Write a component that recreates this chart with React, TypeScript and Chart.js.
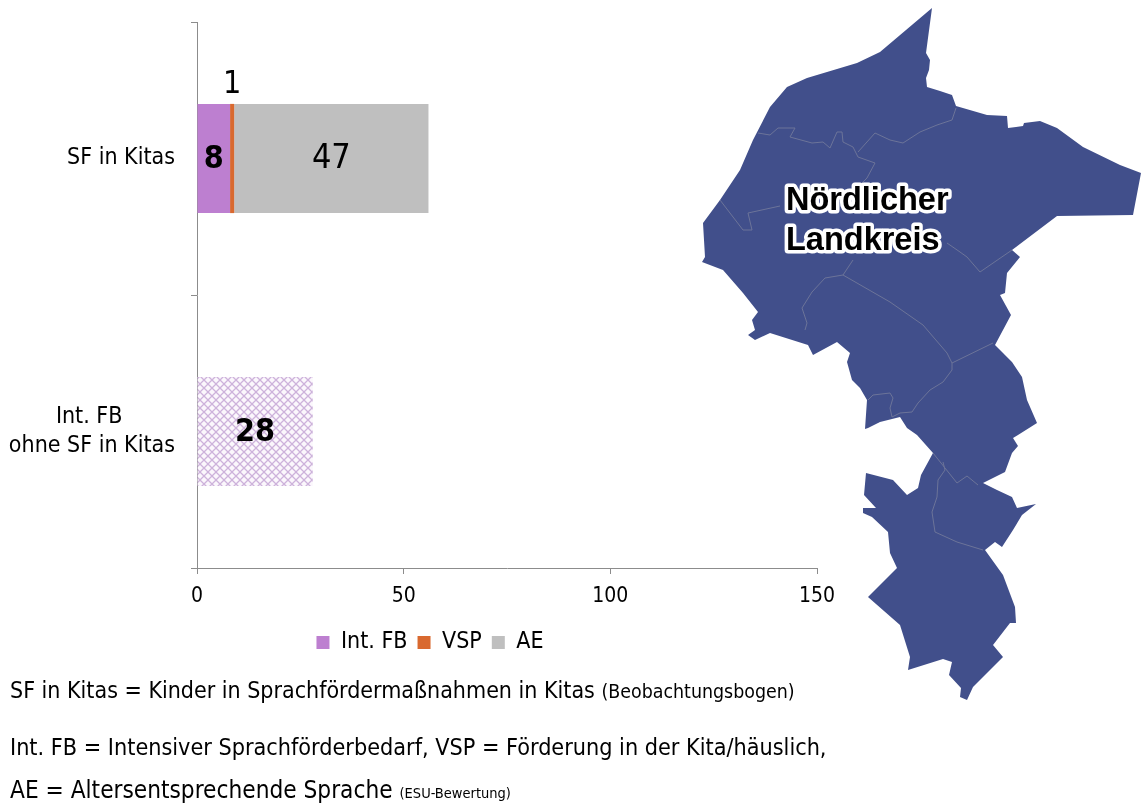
import React, { useEffect, useRef } from "react";
import { Chart, registerables } from "chart.js";

Chart.register(...registerables);

const FONT = '"DejaVu Sans Condensed", "DejaVu Sans", sans-serif';

const categories: string[][] = [["SF in Kitas"], ["Int. FB", "ohne SF in Kitas"]];
const intFb = [8, 28];
const vsp = [1, null];
const ae = [47, null];
const xTicks = [0, 50, 100, 150];

const COL_INT = "#bd7fd0";
const COL_VSP = "#d9692f";
const COL_AE = "#bfbfbf";
const AXIS = "#8c8c8c";

const outline: number[][] = [
  [932,8],[926,53],[930,60],[929,70],[926,78],[927,87],[940,91],[952,95],[956,106],[987,115],[1007,116],[1008,128],[1023,126],[1024,123],[1040,121],[1057,128],[1083,147],[1120,165],[1141,173],[1133,215],[1057,216],[1012,250],[1020,257],[1007,273],[1005,293],[1000,295],[1011,315],[995,345],
  [1003,353],[1012,362],[1022,377],[1027,400],[1037,423],[1013,438],[1018,446],[1012,453],[1005,472],[983,483],[997,490],[1012,497],[1017,508],[1036,504],[1022,515],[1013,530],[1002,547],[995,542],[985,550],[1003,575],[1015,607],[1016,623],[1010,623],[993,645],[1003,657],[973,687],[967,700],[960,697],[961,688],[949,675],[952,662],[943,659],[908,670],[910,657],[900,625],[868,597],[897,568],[890,553],[888,532],[872,517],[863,513],[863,508],[876,508],[864,495],[866,473],[893,480],[907,495],[918,488],[921,475],[933,453],
  [917,435],[907,428],[900,417],[880,422],[868,428],[865,429],[867,400],[860,388],[852,380],[847,362],[850,353],[837,342],[813,355],[808,345],[770,333],[755,340],[748,335],[755,330],[752,320],[758,312],[743,293],[723,270],[702,262],[705,257],[703,223],[720,200],[740,170],[753,140],[770,107],[787,87],[807,78],[857,63],[880,52]
];
const borders: number[][][] = [
  [[758,133],[770,135],[778,128],[795,128],[790,137],[812,143],[823,142],[830,148],[837,132],[842,132],[843,142],[853,147],[858,157],[875,163],[867,178],[860,185]],
  [[858,152],[875,133],[890,140],[903,143],[920,132],[937,125],[952,120],[956,108]],
  [[720,200],[743,230],[752,230],[748,213],[780,206]],
  [[947,243],[960,252],[967,257],[980,272],[1012,250]],
  [[853,260],[843,275],[825,278],[812,292],[802,308],[807,323],[805,330]],
  [[843,275],[890,302],[923,325],[947,353],[952,363],[993,343]],
  [[952,363],[952,370],[943,382],[930,390],[918,403],[912,412],[900,413],[892,417],[890,408],[893,398],[890,393],[873,395],[868,400]],
  [[933,453],[953,478],[957,483],[967,476],[978,485]],
  [[943,462],[945,470],[938,480],[937,497],[932,512],[935,532],[957,542],[983,550]],
];
const toPts = (p: number[][]) => p.map((q) => q.join(",")).join(" ");

function hatch(): CanvasPattern | string {
  const c = document.createElement("canvas");
  c.width = 8;
  c.height = 8;
  const g = c.getContext("2d");
  if (!g) return "#eee";
  g.fillStyle = "#fbf7fc";
  g.fillRect(0, 0, 8, 8);
  g.strokeStyle = "#cdb2db";
  g.lineWidth = 1.3;
  g.beginPath();
  g.moveTo(0, 0); g.lineTo(8, 8);
  g.moveTo(8, 0); g.lineTo(0, 8);
  g.stroke();
  return g.createPattern(c, "repeat") || "#eee";
}

const valueLabels = {
  id: "valueLabels",
  afterDatasetsDraw(chart: any) {
    const { ctx } = chart;
    ctx.save();
    ctx.textAlign = "center";
    ctx.textBaseline = "middle";
    ctx.fillStyle = "#000";
    chart.data.datasets.forEach((ds: any, di: number) => {
      const meta = chart.getDatasetMeta(di);
      ds.data.forEach((v: number | null, i: number) => {
        if (v == null) return;
        const el = meta.data[i];
        const cx = (el.x + el.base) / 2;
        if (di === 1) {
          ctx.font = `32px ${FONT}`;
          ctx.fillText(String(v), cx, el.y - el.height / 2 - 19);
        } else if (di === 0) {
          ctx.font = `bold 32px ${FONT}`;
          ctx.fillText(String(v), cx, el.y + 1);
        } else {
          ctx.font = `34px ${FONT}`;
          ctx.fillText(String(v), cx, el.y + 1);
        }
      });
    });
    ctx.restore();
  },
};

const textLine: React.CSSProperties = {
  position: "absolute",
  left: 10,
  fontFamily: FONT,
  fontSize: 23,
  lineHeight: "26px",
  color: "#000",
  whiteSpace: "nowrap",
};

export default function App() {
  const ref = useRef<HTMLCanvasElement>(null);
  useEffect(() => {
    document.body.style.margin = "0";
    document.body.style.overflow = "hidden";
    if (!ref.current) return;
    const pat = hatch();
    const chart = new Chart(ref.current, {
      type: "bar",
      data: {
        labels: categories,
        datasets: [
          {
            label: "Int. FB",
            data: intFb,
            backgroundColor: (c: any) => (c.dataIndex === 1 ? pat : COL_INT),
          },
          { label: "VSP", data: vsp, backgroundColor: COL_VSP },
          { label: "AE", data: ae, backgroundColor: COL_AE },
        ],
      } as any,
      plugins: [valueLabels],
      options: {
        indexAxis: "y",
        animation: false,
        responsive: false,
        layout: { padding: 0 },
        datasets: { bar: { categoryPercentage: 1, barPercentage: 0.4 } },
        plugins: {
          tooltip: { enabled: false },
          legend: {
            position: "bottom",
            labels: {
              boxWidth: 13,
              boxHeight: 13,
              padding: 10,
              color: "#000",
              font: { family: FONT, size: 23 },
            },
          },
        },
        scales: {
          x: {
            stacked: true,
            min: xTicks[0],
            max: xTicks[xTicks.length - 1],
            afterFit: (s: any) => { s.height = 53; s.paddingRight = 43; s.paddingLeft = 0; },
            afterBuildTicks: (s: any) => { s.ticks = xTicks.map((value) => ({ value })); },
            grid: { drawOnChartArea: false, color: AXIS, tickLength: 6 },
            border: { color: AXIS },
            ticks: {
              color: "#000",
              padding: 10,
              maxRotation: 0,
              font: { family: FONT, size: 21 },
            },
          },
          y: {
            stacked: true,
            afterFit: (s: any) => { s.width = 197; s.paddingTop = 22; s.paddingBottom = 0; },
            grid: { drawOnChartArea: false, color: AXIS, tickLength: 6, offset: true },
            border: { color: AXIS },
            ticks: {
              color: "#000",
              padding: 16,
              font: { family: FONT, size: 23, lineHeight: 1.27 },
              callback: (_v: any, i: number) => {
                const lines = categories[i];
                return lines.length > 1 ? [lines[0] + " ".repeat(8), lines[1]] : lines;
              },
            },
          },
        },
      },
    } as any);
    return () => chart.destroy();
  }, []);

  return (
    <div style={{ position: "relative", width: 1141, height: 803, overflow: "hidden", background: "#fff" }}>
      <canvas ref={ref} width={860} height={664} style={{ position: "absolute", left: 0, top: 0 }} />
      <svg width={1141} height={803} style={{ position: "absolute", left: 0, top: 0 }}>
        <polygon points={toPts(outline)} fill="#414f8b" />
        {borders.map((b, i) => (
          <polyline key={i} points={toPts(b)} fill="none" stroke="#6c7499" strokeWidth={1} />
        ))}
        <g fontFamily='"Liberation Sans", Arial, sans-serif' fontWeight="bold" fontSize={32.5} fill="#000" stroke="#fff" strokeWidth={7} strokeLinejoin="round" style={{ paintOrder: "stroke" }}>
          <text x={786} y={210}>Nördlicher</text>
          <text x={786} y={250}>Landkreis</text>
        </g>
      </svg>
      <div style={{ ...textLine, top: 677 }}>
        SF in Kitas = Kinder in Sprachfördermaßnahmen in Kitas <span style={{ fontSize: 19.4 }}>(Beobachtungsbogen)</span>
      </div>
      <div style={{ ...textLine, top: 734, fontSize: 23.2 }}>
        Int. FB = Intensiver Sprachförderbedarf, VSP = Förderung in der Kita/häuslich,
      </div>
      <div style={{ ...textLine, top: 777, fontSize: 24.2 }}>
        AE = Altersentsprechende Sprache <span style={{ fontSize: 14.5 }}>(ESU-Bewertung)</span>
      </div>
    </div>
  );
}
